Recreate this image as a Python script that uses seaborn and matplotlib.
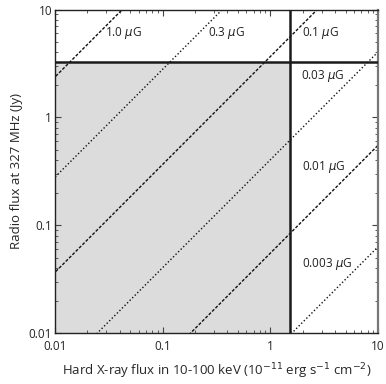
import numpy as np
import pandas as pd
import matplotlib
matplotlib.use("Agg")
import matplotlib.pyplot as plt
import seaborn as sns

# Data
field_labels = ["1.0", "0.3", "0.1", "0.03", "0.01", "0.003"]
# radio flux (Jy) per unit hard X-ray flux along each iso-field line
ratio_values = [237.0, 27.9, 3.66, 0.404, 0.055, 0.0063]
line_styles = ["dashed", "dotted", "dashed", "dotted", "dashed", "dotted"]
xray_ends = [0.001, 100.0]
xray_limit = 1.52
radio_limit = 3.26
label_x = [0.0291, 0.264, 1.96, 1.93, 1.96, 1.96]
label_y = [6.05, 6.05, 6.05, 2.43, 0.346, 0.0436]
ticks = [0.01, 0.1, 1, 10]
tick_labels = ["0.01", "0.1", "1", "10"]

sns.set_style("ticks")
plt.rcParams['font.family'] = ['Open Sans', 'DejaVu Sans']
plt.rcParams['mathtext.fontset'] = 'dejavusans'

fig = plt.figure(figsize=(3.86, 3.84), dpi=100)
ax = fig.add_axes([55/386, 1-333/384, 323/386, 323.5/384])

ax.set_xscale("log")
ax.set_yscale("log")
ax.set_xlim(0.01, 10)
ax.set_ylim(0.01, 10)

ax.fill_between([0.01, xray_limit], 0.01, radio_limit, color="#dcdcdc", lw=0, zorder=0)

rows = []
for lab, k in zip(field_labels, ratio_values):
    for x in xray_ends:
        rows.append({"B": lab, "x": x, "y": k * x})
df = pd.DataFrame(rows)

dash_map = {"dashed": (2.2, 1.2), "dotted": (1, 1.6)}
sns.lineplot(data=df, x="x", y="y", hue="B", style="B",
             palette=["#111111"] * len(field_labels),
             dashes=[dash_map[s] for s in line_styles],
             linewidth=1.0, legend=False, ax=ax, zorder=2)

ax.axvline(xray_limit, ymin=0, ymax=1, color="#1a1a1a", lw=1.8, zorder=3)
ax.axhline(radio_limit, color="#1a1a1a", lw=1.8, zorder=3)

for lab, xx, yy in zip(field_labels, label_x, label_y):
    ax.text(xx, yy, lab + r" $\mu$G", fontsize=8.5, color="#222222",
            ha="left", va="center", zorder=4)

ax.set_xticks(ticks)
ax.set_xticklabels(tick_labels)
ax.set_yticks(ticks)
ax.set_yticklabels(tick_labels)
ax.tick_params(which="both", direction="in", top=True, right=True, labelsize=8.5, color="#444444")
ax.tick_params(which="major", length=4, width=0.8)
ax.tick_params(which="minor", length=2.5, width=0.6)
ax.tick_params(axis="x", which="major", pad=5)
ax.tick_params(axis="y", which="major", pad=2)

for s in ["left", "bottom", "top"]:
    ax.spines[s].set_linewidth(1.0)
    ax.spines[s].set_color("#222222")
ax.spines["right"].set_linewidth(1.6)
ax.spines["right"].set_color("#777777")

ax.set_xlabel(r"Hard X-ray flux in 10-100 keV (10$^{-11}$ erg s$^{-1}$ cm$^{-2}$)", fontsize=9.5, labelpad=6)
ax.set_ylabel("Radio flux at 327 MHz (Jy)", fontsize=9.5, labelpad=4)

fig.savefig("out.png", dpi=100)
